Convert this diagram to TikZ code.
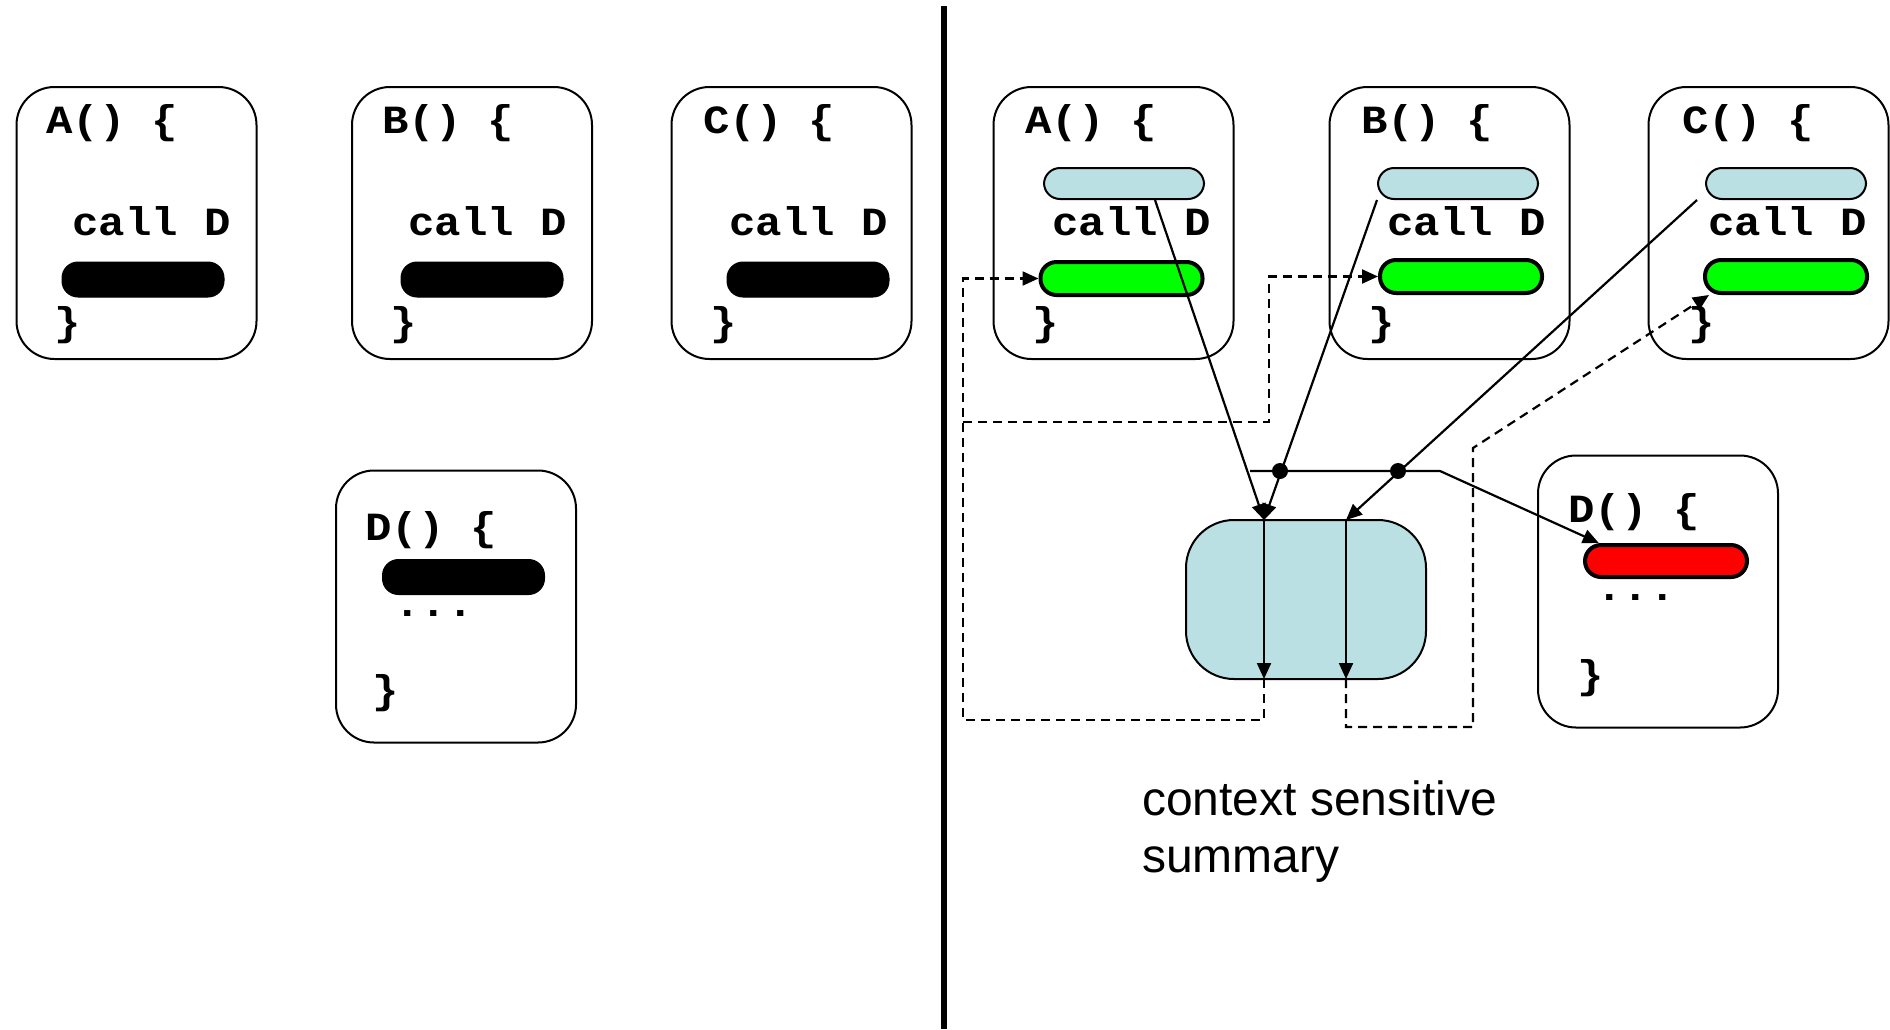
\documentclass[tikz,border=0pt]{standalone}
\usepackage{fontspec}
\setmainfont{Liberation Sans}
\newfontfamily\codefont{Liberation Mono}[FakeStretch=1.1]
\usetikzlibrary{arrows.meta,calc}

\definecolor{sumblue}{HTML}{BBE0E3}
\tikzset{
  proc/.style={draw, line width=2pt, rounded corners=38pt, minimum width=240pt, minimum height=272pt, inner sep=0pt},
  pill/.style={draw, rounded corners=16pt, minimum width=162pt, minimum height=33pt, inner sep=0pt},
  blackpill/.style={pill, fill=black, line width=1pt, minimum height=35pt},
  bluepill/.style={pill, fill=sumblue, line width=2pt, minimum height=31pt, minimum width=160pt},
  greenpill/.style={pill, fill=green, line width=4pt},
  redpill/.style={pill, fill=red, line width=4pt, minimum height=32pt},
  code/.style={font=\codefont\bfseries\fontsize{40}{48}\selectfont, anchor=base west, inner sep=0pt},
  flow/.style={line width=2.2pt, -{Triangle[length=16pt,width=14pt]}},
  ret/.style={line width=2.2pt, dash pattern=on 9pt off 6pt, -{Triangle[length=16pt,width=14pt]}}
}

\begin{document}
\begin{tikzpicture}[x=1pt,y=-1pt]
\useasboundingbox (0,0) rectangle (1890,1029);

\node[proc] (pA) at (136.5,223) {};
\node[proc] (pB) at (472,223) {};
\node[proc] (pC) at (791.5,223) {};
\node[proc] (pD) at (456,606.5) {};
\node[code] (hA) at (46,133) {A() \{};
\node[code] (cA) at (72,235) {call D};
\node[blackpill] (kA) at (143,279.5) {};
\node[code] (eA) at (54,335) {\}};
\node[code] (hB) at (382,133) {B() \{};
\node[code] (cB) at (408,235) {call D};
\node[blackpill] (kB) at (482,279.5) {};
\node[code] (eB) at (390,335) {\}};
\node[code] (hC) at (703,133) {C() \{};
\node[code] (cC) at (729,235) {call D};
\node[blackpill] (kC) at (808,279.5) {};
\node[code] (eC) at (710,335) {\}};
\node[code] (hD) at (365,540) {D() \{};
\node[blackpill] (kD) at (463.5,577) {};
\node[code, anchor=base] (dD) at (434,616) {...};
\node[code] (eD) at (372,703) {\}};

\draw[line width=6pt] (944,6) -- (944,1029);

\node[proc] (qA) at (1113.5,223) {};
\node[proc] (qB) at (1449.5,223) {};
\node[proc] (qC) at (1768.5,223) {};
\node[proc] (qD) at (1658,591.5) {};
\node[proc, fill=sumblue, minimum height=159pt, rounded corners=48pt] (sum) at (1306,599.5) {};
\node[code] (hA2) at (1025,133) {A() \{};
\node[bluepill] (bA) at (1124,183.5) {};
\node[code] (cA2) at (1052,235) {call D};
\node[greenpill] (gA) at (1121.5,278.5) {};
\node[code] (eA2) at (1032,335) {\}};
\node[code] (hB2) at (1361,133) {B() \{};
\node[bluepill] (bB) at (1458,183.5) {};
\node[code] (cB2) at (1387,235) {call D};
\node[greenpill] (gB) at (1461,276.5) {};
\node[code] (eB2) at (1368,335) {\}};
\node[code] (hC2) at (1682,133) {C() \{};
\node[bluepill] (bC) at (1786,183.5) {};
\node[code] (cC2) at (1708,235) {call D};
\node[greenpill] (gC) at (1786,276.5) {};
\node[code] (eC2) at (1688,335) {\}};
\node[code] (hD2) at (1568,522) {D() \{};
\node[redpill] (rD) at (1666,561) {};
\node[code, anchor=base] (dD2) at (1636,600) {...};
\node[code] (eD2) at (1577,688) {\}};

\node[anchor=north west, align=left, inner sep=0pt, font=\fontsize{48}{57}\selectfont] (lbl) at (1142,781) {context sensitive\\summary};

\coordinate (t1) at (1264,520);
\coordinate (t2) at (1346,520);
\coordinate (v1) at (1264,679);
\coordinate (v2) at (1346,679);
\coordinate (h1) at (1250,471);
\coordinate (h2) at (1440,471);
\coordinate (j1) at (1280,471);
\coordinate (j2) at (1398,471);
\coordinate (k1) at (963,422);

\draw[flow] ($(bA.south)+(31,0)$) -- (t1);
\draw[flow] (bB.south west) -- (t1);
\draw[flow] ($(bC.south west)+(-8,0)$) -- (t2);
\draw[flow] (t1) -- (v1);
\draw[flow] (t2) -- (v2);
\draw[flow] (h1) -- (h2) -- (rD.165);
\fill (j1) circle (8pt);
\fill (j2) circle (8pt);

\draw[ret] (v1) -- ++(0,41) -| (k1) |- (gA.west);
\draw[ret] (k1) -- (1269,422) |- (gB.west);
\draw[ret] (v2) -- ++(0,48) -- (1473,727) -- (1473,448) -- ($(gC.south west)+(6,0)$);
\end{tikzpicture}
\end{document}
